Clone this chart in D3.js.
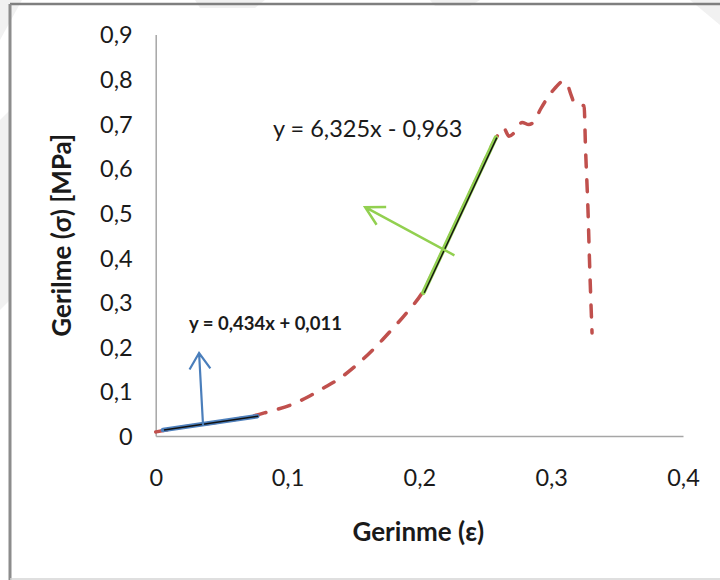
<!DOCTYPE html>
<html>
<head>
<meta charset="utf-8">
<script src="https://cdn.jsdelivr.net/npm/d3@7/dist/d3.min.js"></script>
<style>
  body { margin: 0; background: #fff; }
  svg { display: block; }
  text { font-family: Lato, "Open Sans", sans-serif; fill: #1a1a1a; }
</style>
</head>
<body>
<svg id="chart" width="720" height="580"></svg>
<script>
// stress-strain test curve
const strain = [0, 0.02, 0.04, 0.06, 0.077, 0.085, 0.102, 0.115, 0.127, 0.140, 0.155, 0.166, 0.178, 0.19, 0.203,
                0.215, 0.23, 0.245, 0.259, 0.264, 0.268, 0.272, 0.278, 0.283, 0.287, 0.292, 0.297, 0.303, 0.309,
                0.312, 0.315, 0.318, 0.322, 0.325, 0.326, 0.328, 0.329, 0.331];
const stress = [0.009, 0.02, 0.028, 0.037, 0.047, 0.054, 0.069, 0.087, 0.107, 0.130, 0.166, 0.197, 0.235, 0.275, 0.325,
                0.397, 0.492, 0.587, 0.672, 0.69, 0.672, 0.68, 0.703, 0.698, 0.705, 0.733, 0.757, 0.78, 0.795,
                0.79, 0.765, 0.745, 0.742, 0.74, 0.65, 0.5, 0.4, 0.231];

const xTicks = [0, 0.1, 0.2, 0.3, 0.4];
const yTicks = [0, 0.1, 0.2, 0.3, 0.4, 0.5, 0.6, 0.7, 0.8, 0.9];

// linear trendlines: [slope, intercept], strain range
const fitElastic = { coef: [0.434, 0.011], range: [0.0055, 0.077], label: "y = 0,434x + 0,011" };
const fitSteep = { coef: [6.325, -0.963], range: [0.203, 0.258], label: "y = 6,325x - 0,963" };

// annotation arrows (tail -> tip) in data units
const arrowBlue = [[0.0359, 0.0246], [0.0329, 0.186]];
const arrowGreen = [[0.2266, 0.405], [0.1589, 0.513]];

const svg = d3.select("#chart");
const W = 720, H = 580;

// faint watermark bands behind the frame
const bands = [
    [[0, 0], [22, 0], [0, 40]],
    [[0, 120], [10, 110], [10, 300], [0, 310]],
    [[195, 0], [265, 0], [255, 8], [200, 8]],
    [[430, 0], [480, 0], [470, 6], [435, 6]],
    [[690, 0], [720, 0], [720, 25]]
];
svg.append("g").selectAll("path").data(bands).join("path")
    .attr("d", d => d3.line()(d) + "Z").attr("fill", "#f1f1f1");

// outer frame
svg.append("line").attr("x1", 10).attr("y1", 4).attr("x2", W).attr("y2", 4)
    .attr("stroke", "#7f7f7f").attr("stroke-width", 2.5);
svg.append("line").attr("x1", 10).attr("y1", 4).attr("x2", 10).attr("y2", 580)
    .attr("stroke", "#8c8c8c").attr("stroke-width", 3);
svg.append("line").attr("x1", 10).attr("y1", 579).attr("x2", W).attr("y2", 579)
    .attr("stroke", "#d4d4d4").attr("stroke-width", 1.5);

const x = d3.scaleLinear().domain([0, 0.4]).range([155.7, 683]);
const y = d3.scaleLinear().domain([0, 0.9]).range([436, 34.5]);

const fmt = d => d3.format(".1~f")(d).replace(".", ",");

// axes
const xAxis = svg.append("g").attr("transform", `translate(0,${y(0)})`)
    .call(d3.axisBottom(x).tickValues(xTicks).tickSize(0).tickPadding(33).tickFormat(fmt));
const yAxis = svg.append("g").attr("transform", `translate(${x(0)},0)`)
    .call(d3.axisLeft(y).tickValues(yTicks).tickSize(0).tickPadding(23).tickFormat(fmt));
[xAxis, yAxis].forEach(a => {
    a.select(".domain").attr("stroke", "#a6a6a6").attr("stroke-width", 1.5);
    a.selectAll("text").attr("font-size", 23.5).attr("font-family", "Lato, sans-serif").attr("fill", "#1a1a1a");
});
yAxis.selectAll("text").attr("dy", "0.36em");

// axis titles
svg.append("text").attr("x", x(0.2) - 1).attr("y", 541).attr("text-anchor", "middle")
    .attr("font-size", 26).attr("font-weight", "bold").text("Gerinme (ε)");
svg.append("text").attr("transform", `translate(71,${(y(0) + y(0.9)) / 2}) rotate(-90)`)
    .attr("text-anchor", "middle").attr("font-size", 26).attr("font-weight", "bold")
    .text("Gerilme (σ) [MPa]");

// measured curve
const pts = strain.map((s, i) => [s, stress[i]]);
const line = d3.line().x(d => x(d[0])).y(d => y(d[1])).curve(d3.curveMonotoneX);
svg.append("path").datum(pts).attr("d", line).attr("fill", "none")
    .attr("stroke", "#c0504d").attr("stroke-width", 3.5)
    .attr("stroke-dasharray", "12,13").attr("stroke-linecap", "round");

// trendline segments
function fitPts(f) {
    return f.range.map(s => [s, f.coef[0] * s + f.coef[1]]);
}
const straight = d3.line().x(d => x(d[0])).y(d => y(d[1]));
[[fitElastic, "#4f81bd"], [fitSteep, "#92d050"]].forEach(([f, c]) => {
    svg.append("path").datum(fitPts(f)).attr("d", straight).attr("fill", "none")
        .attr("stroke", c).attr("stroke-width", 4.5).attr("stroke-linecap", "round");
    svg.append("path").datum(fitPts(f)).attr("d", straight).attr("fill", "none")
        .attr("stroke", "#111").attr("stroke-width", 1.4).attr("transform", "translate(1,0)");
});

// arrows
function drawArrow(a, color, width, headLen, headAng) {
    const [t0, t1] = a.map(p => [x(p[0]), y(p[1])]);
    const ang = Math.atan2(t0[1] - t1[1], t0[0] - t1[0]);
    const h1 = [t1[0] + headLen * Math.cos(ang - headAng), t1[1] + headLen * Math.sin(ang - headAng)];
    const h2 = [t1[0] + headLen * Math.cos(ang + headAng), t1[1] + headLen * Math.sin(ang + headAng)];
    svg.append("path").attr("d", `M${t0}L${t1}M${h1}L${t1}L${h2}`)
        .attr("fill", "none").attr("stroke", color).attr("stroke-width", width)
        .attr("stroke-linejoin", "miter");
}
drawArrow(arrowBlue, "#4a7ebb", 2.2, 19, 0.58);
drawArrow(arrowGreen, "#92d050", 2.5, 21, 0.5);

// equation labels
svg.append("text").attr("x", 273).attr("y", 137).attr("font-size", 23.5).text(fitSteep.label);
svg.append("text").attr("x", 189).attr("y", 330).attr("font-size", 18.5).attr("font-weight", "bold")
    .text(fitElastic.label);
</script>
</body>
</html>
